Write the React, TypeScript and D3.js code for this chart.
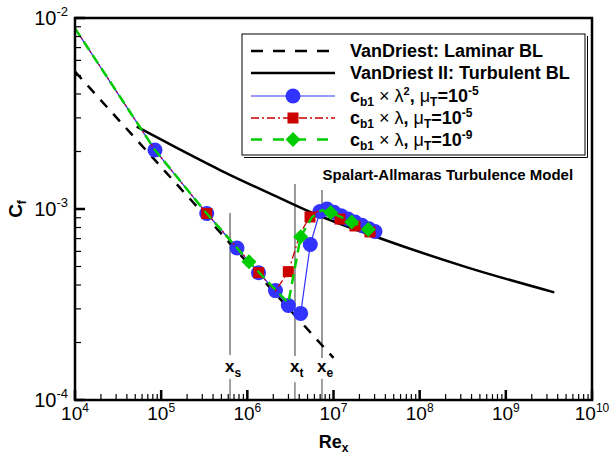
import React from "react";
import * as d3 from "d3";

// ---------- data ----------
const laminarRe = [1e4, 1e5, 1e6, 1e7];
const laminarCf = [5.24e-3, 1.66e-3, 5.24e-4, 1.66e-4];

const turbRe = [5.2e4, 1.58e5, 4.82e5, 2.39e6, 5.83e6, 3.46e7, 3.55e8, 3.65e9];
const turbCf = [2.7e-3, 2.07e-3, 1.6e-3, 1.14e-3, 9.5e-4, 7.03e-4, 4.95e-4, 3.66e-4];

// c_b1 x lambda^2, muT = 1e-5 (blue circles)
const blueRe = [1e4, 8.48e4, 3.38e5, 7.59e5, 1.348e6, 2.12e6, 2.99e6, 4.16e6, 5.38e6, 6.97e6, 8.4e6, 1.013e7, 1.222e7, 1.473e7, 1.776e7, 2.141e7, 2.581e7, 3.03e7];
const blueCf = [8.83e-3, 2.036e-3, 9.47e-4, 6.25e-4, 4.64e-4, 3.74e-4, 3.125e-4, 2.84e-4, 6.52e-4, 9.7e-4, 1.0e-3, 9.61e-4, 9.23e-4, 8.87e-4, 8.54e-4, 8.21e-4, 7.88e-4, 7.62e-4];
const blueMarks = [1, 2, 3, 4, 5, 6, 7, 8, 9, 10, 11, 12, 13, 14, 15, 16, 17];

// c_b1 x lambda, muT = 1e-5 (red squares)
const redRe = [1e4, 8.48e4, 3.38e5, 7.59e5, 1.355e6, 2.12e6, 2.99e6, 4.16e6, 5.34e6, 6.61e6, 8.4e6, 1.19e7, 1.776e7, 2.65e7, 3.11e7];
const redCf = [8.83e-3, 2.036e-3, 9.47e-4, 6.29e-4, 4.64e-4, 3.72e-4, 4.7e-4, 7.58e-4, 9.08e-4, 9.76e-4, 9.76e-4, 8.86e-4, 8.15e-4, 7.58e-4, 7.4e-4];
const redMarks = [2, 4, 6, 8, 11, 12, 13];

// c_b1 x lambda, muT = 1e-9 (green diamonds)
const greenRe = [1e4, 8.48e4, 3.38e5, 1.045e6, 2.12e6, 2.99e6, 4.16e6, 5.63e6, 7.35e6, 9.28e6, 1.626e7, 2.533e7, 3.11e7];
const greenCf = [8.83e-3, 2.036e-3, 9.47e-4, 5.3e-4, 3.77e-4, 3.22e-4, 7.16e-4, 9.08e-4, 9.88e-4, 9.59e-4, 8.55e-4, 7.81e-4, 7.53e-4];
const greenMarks = [3, 6, 9, 10, 11];

// transition markers x_s, x_t, x_e
const markRe = [6.3e5, 3.57e6, 7.35e6];
const markSub = ["s", "t", "e"];
const markTopCf = [9.53e-4, 1.35e-3, 1.257e-3];
const markBotCf = [1.72e-4, 1.7e-4, 1.66e-4];
const markLowCf = [1.29e-4, 1.24e-4, 1.29e-4];
const markLabelCf = 1.4e-4;

const xDecades = [4, 5, 6, 7, 8, 9, 10];
const yDecades = [-4, -3, -2];

const FONT = "'Liberation Sans', Arial, Helvetica, sans-serif";

export default function App() {
  const W = 612, H = 455;
  const L = 75, R = 592, T = 18, B = 400;
  const x = d3.scaleLog().domain([1e4, 1e10]).range([L, R]);
  const y = d3.scaleLog().domain([1e-4, 1e-2]).range([B, T]);

  const pts = (re: number[], cf: number[]) => re.map((r, i) => [r, cf[i]] as [number, number]);
  const line = d3.line<[number, number]>().x(d => x(d[0])).y(d => y(d[1]));
  const curve = d3.line<[number, number]>().x(d => x(d[0])).y(d => y(d[1])).curve(d3.curveMonotoneX);

  const blue = "#3333ff", red = "#cc0000", green = "#00cc00";

  const xMinor: number[] = [];
  for (let d = 4; d < 10; d++) for (let m = 2; m <= 9; m++) xMinor.push(m * Math.pow(10, d));
  const yMinor: number[] = [];
  for (let d = -4; d < -2; d++) for (let m = 2; m <= 9; m++) yMinor.push(m * Math.pow(10, d));

  const circle = (cx: number, cy: number, k: string) => <circle key={k} cx={cx} cy={cy} r={7.5} fill={blue} />;
  const square = (cx: number, cy: number, k: string) => <rect key={k} x={cx - 5.5} y={cy - 5.5} width={11} height={11} fill={red} />;
  const diamond = (cx: number, cy: number, k: string) => (
    <path key={k} d={`M${cx},${cy - 7.5}L${cx + 7.5},${cy}L${cx},${cy + 7.5}L${cx - 7.5},${cy}Z`} fill={green} />
  );

  const legRows = [51, 73, 96, 118, 139.5];
  const lx0 = 251, lx1 = 335, lmx = 293, ltx = 350;

  const cbText = (lamSup: boolean, exp: string) => (
    <>
      <tspan fontWeight="bold">c</tspan>
      <tspan fontWeight="bold" fontSize={12} dy={4}>b1</tspan>
      <tspan fontWeight="normal" dy={-4}>{" \u00d7 \u03bb"}</tspan>
      {lamSup ? <tspan fontSize={11} dy={-7} fontWeight="bold">2</tspan> : null}
      <tspan fontWeight="bold" dy={lamSup ? 7 : 0}>{", "}</tspan>
      <tspan fontWeight="normal">{"\u03bc"}</tspan>
      <tspan fontWeight="bold" fontSize={12} dy={4}>T</tspan>
      <tspan fontWeight="bold" dy={-4}>=10</tspan>
      <tspan fontWeight="bold" fontSize={12} dy={-7}>{exp}</tspan>
    </>
  );

  return (
    <svg width={W} height={H} style={{ position: "absolute", left: 0, top: 0, background: "#fff" }} fontFamily={FONT}>
      <rect x={0} y={0} width={W} height={H} fill="#fff" />
      <defs>
        <clipPath id="plot"><rect x={L} y={T} width={R - L} height={B - T} /></clipPath>
      </defs>

      {/* transition marker lines */}
      {markRe.map((r, i) => (
        <g key={"m" + i}>
          <line x1={x(r)} x2={x(r)} y1={y(markTopCf[i])} y2={y(markBotCf[i])} stroke="#808080" strokeWidth={1.6} />
          <line x1={x(r)} x2={x(r)} y1={y(markLowCf[i])} y2={B} stroke="#444" strokeWidth={1} />
          <text x={x(r) - 5} y={y(markLabelCf)} fontSize={17} fontWeight="bold">
            x<tspan fontSize={12} dy={5}>{markSub[i]}</tspan>
          </text>
        </g>
      ))}

      <g clipPath="url(#plot)">
        <path d={line(pts(laminarRe, laminarCf)) || ""} fill="none" stroke="#000" strokeWidth={2.5} strokeDasharray="10,9" />
        <path d={curve(pts(turbRe, turbCf)) || ""} fill="none" stroke="#000" strokeWidth={2.5} />

        <path d={line(pts(blueRe, blueCf)) || ""} fill="none" stroke={blue} strokeWidth={1.2} />
        {blueMarks.map(i => circle(x(blueRe[i]), y(blueCf[i]), "b" + i))}

        <path d={line(pts(redRe, redCf)) || ""} fill="none" stroke={red} strokeWidth={1.3} strokeDasharray="8,3,2,3" />
        {redMarks.map(i => square(x(redRe[i]), y(redCf[i]), "r" + i))}

        <path d={line(pts(greenRe, greenCf)) || ""} fill="none" stroke={green} strokeWidth={2.5} strokeDasharray="10,6" />
        {greenMarks.map(i => diamond(x(greenRe[i]), y(greenCf[i]), "g" + i))}
      </g>

      <text x={322.5} y={180} fontSize={15} fontWeight="bold">Spalart-Allmaras Turbulence Model</text>

      {/* legend */}
      <g>
        <rect x={242} y={34} width={343} height={121} fill="#fff" stroke="#000" strokeWidth={1} />
        <line x1={587.5} x2={587.5} y1={36} y2={157.5} stroke="#000" strokeWidth={1} />
        <line x1={244} x2={587.5} y1={157.5} y2={157.5} stroke="#000" strokeWidth={1} />

        <line x1={lx0} x2={lx1} y1={legRows[0]} y2={legRows[0]} stroke="#000" strokeWidth={2.5} strokeDasharray="12,10" />
        <line x1={lx0} x2={lx1} y1={legRows[1]} y2={legRows[1]} stroke="#000" strokeWidth={2.5} />
        <line x1={lx0} x2={lx1} y1={legRows[2]} y2={legRows[2]} stroke={blue} strokeWidth={1.2} />
        {circle(lmx, legRows[2], "lb")}
        <line x1={lx0} x2={lx1} y1={legRows[3]} y2={legRows[3]} stroke={red} strokeWidth={1.3} strokeDasharray="8,3,2,3" />
        {square(lmx, legRows[3], "lr")}
        <line x1={lx0} x2={lx1} y1={legRows[4]} y2={legRows[4]} stroke={green} strokeWidth={2.5} strokeDasharray="11,11" />
        {diamond(lmx, legRows[4], "lg")}

        <text x={ltx} y={legRows[0] + 6} fontSize={18} fontWeight="bold">VanDriest: Laminar BL</text>
        <text x={ltx} y={legRows[1] + 6} fontSize={18} fontWeight="bold">VanDriest II: Turbulent BL</text>
        <text x={ltx} y={legRows[2] + 6} fontSize={18}>{cbText(true, "-5")}</text>
        <text x={ltx} y={legRows[3] + 6} fontSize={18}>{cbText(false, "-5")}</text>
        <text x={ltx} y={legRows[4] + 6} fontSize={18}>{cbText(false, "-9")}</text>
      </g>

      {/* ticks */}
      {xMinor.map((v, i) => (
        <line key={"xm" + i} x1={x(v)} x2={x(v)} y1={B} y2={B - 6} stroke="#000" strokeWidth={1.2} />
      ))}
      {xDecades.map(d => (
        <line key={"xM" + d} x1={x(Math.pow(10, d))} x2={x(Math.pow(10, d))} y1={B} y2={B - 10} stroke="#000" strokeWidth={2.5} />
      ))}
      {yMinor.map((v, i) => (
        <line key={"ym" + i} x1={L} x2={L + 6} y1={y(v)} y2={y(v)} stroke="#000" strokeWidth={1.2} />
      ))}
      {yDecades.map(d => (
        <line key={"yM" + d} x1={L} x2={L + 10} y1={y(Math.pow(10, d))} y2={y(Math.pow(10, d))} stroke="#000" strokeWidth={2.5} />
      ))}

      {/* frame */}
      <rect x={L} y={T} width={R - L} height={B - T} fill="none" stroke="#000" strokeWidth={2.5} />

      {/* tick labels */}
      {xDecades.map(d => (
        <text key={"xl" + d} x={x(Math.pow(10, d))} y={420} fontSize={19} textAnchor="middle">
          10<tspan fontSize={12} dy={-8}>{d}</tspan>
        </text>
      ))}
      {yDecades.map(d => (
        <text key={"yl" + d} x={68} y={y(Math.pow(10, d)) + 7} fontSize={20} textAnchor="end">
          10<tspan fontSize={13} dy={-9}>{d}</tspan>
        </text>
      ))}

      {/* axis titles */}
      <text x={(L + R) / 2} y={448} fontSize={18} fontWeight="bold" textAnchor="middle">
        Re<tspan fontSize={12} dy={4}>x</tspan>
      </text>
      <text transform={`translate(22,${(y(1e-3))}) rotate(-90)`} fontSize={19} fontWeight="bold" textAnchor="middle">
        C<tspan fontSize={12} dy={4}>f</tspan>
      </text>
    </svg>
  );
}
